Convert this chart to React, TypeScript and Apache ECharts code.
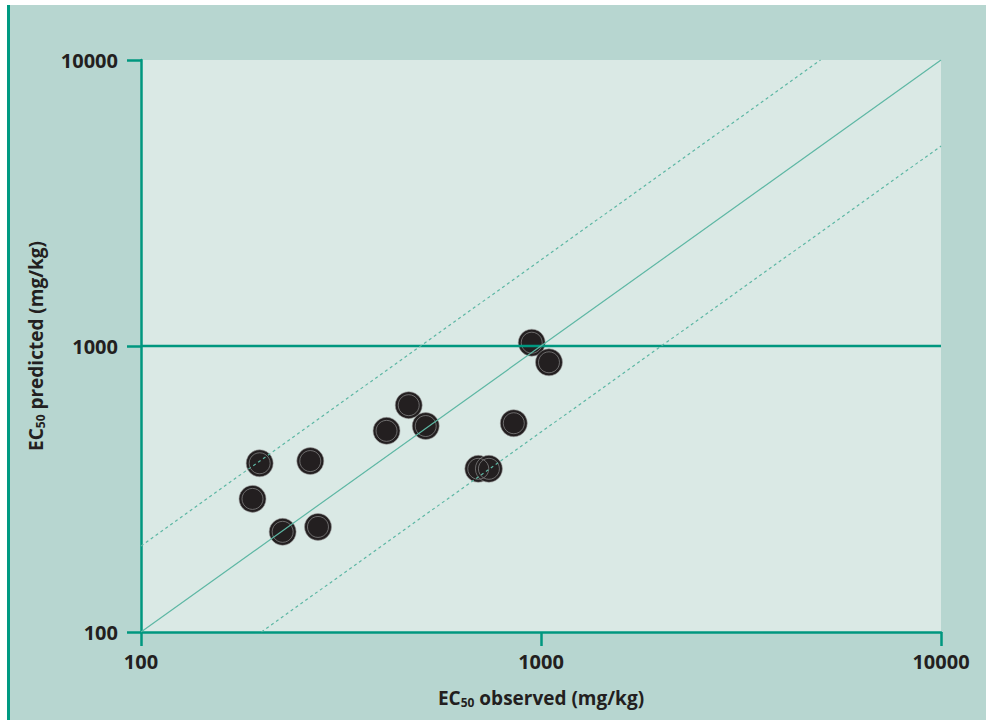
import React, { useEffect, useRef } from "react";
import * as echarts from "echarts";

const observed = [198, 190, 226, 265, 277, 411, 467, 515, 697, 741, 855, 948, 1047];
const predicted = [389, 292, 224, 396, 233, 505, 621, 525, 372, 372, 537, 1027, 877];
const axisMin = 100;
const axisMax = 10000;
const refLine = 1000;

const AXIS = "#00977f";
const DIAG = "#5db7a4";
const TEXT = "#231f20";
const FONT = "Open Sans";

export default function App() {
  const ref = useRef<HTMLDivElement>(null);
  useEffect(() => {
    if (!ref.current) return;
    const chart = echarts.init(ref.current, undefined, { renderer: "svg" });
    const points = observed.map((o, i) => [o, predicted[i]]);
    const axisCommon = {
      type: "log" as const,
      logBase: 10,
      min: axisMin,
      max: axisMax,
      axisLine: { show: true, lineStyle: { color: AXIS, width: 2.5 } },
      axisTick: { show: true, length: 14, lineStyle: { color: AXIS, width: 2.5 } },
      splitLine: { show: false },
      minorTick: { show: false },
    };
    const rich = {
      b: { fontFamily: FONT, fontWeight: "bold", fontSize: 19, fill: TEXT, color: TEXT },
      s: { fontFamily: FONT, fontWeight: "bold", fontSize: 12, fill: TEXT, color: TEXT, padding: [9, 0, 0, 0] },
    };
    chart.setOption({
      animation: false,
      backgroundColor: "#ffffff",
      graphic: [
        { type: "rect", shape: { x: 7, y: 5, width: 986, height: 720 }, style: { fill: "#b7d6d0" }, z: -10 },
        { type: "rect", shape: { x: 7, y: 5, width: 3, height: 720 }, style: { fill: "#009a82" }, z: -9 },
        {
          type: "text",
          x: 541,
          y: 698,
          style: {
            text: "{b|EC}{s|50}{b| observed (mg/kg)}",
            align: "center",
            verticalAlign: "middle",
            rich,
          },
        },
        {
          type: "text",
          x: 36,
          y: 346,
          rotation: Math.PI / 2,
          style: {
            text: "{b|EC}{s|50}{b| predicted (mg/kg)}",
            align: "center",
            verticalAlign: "middle",
            rich,
          },
        },
      ],
      grid: {
        left: 141,
        top: 60,
        width: 800,
        height: 572,
        show: true,
        backgroundColor: "#dae9e5",
        borderWidth: 0,
      },
      xAxis: {
        ...axisCommon,
        axisLabel: {
          margin: 19,
          color: TEXT,
          fontFamily: FONT,
          fontWeight: "bold",
          fontSize: 20,
          formatter: (v: number) => String(Math.round(v)),
        },
      },
      yAxis: {
        ...axisCommon,
        axisLabel: {
          margin: 23,
          color: TEXT,
          fontFamily: FONT,
          fontWeight: "bold",
          fontSize: 20,
          formatter: (v: number) => String(Math.round(v)),
        },
      },
      series: [
        {
          type: "line",
          data: [[axisMin, refLine], [axisMax, refLine]],
          symbol: "none",
          lineStyle: { color: AXIS, width: 2.5 },
          silent: true,
        },
        {
          type: "line",
          data: [[100, 100], [10000, 10000]],
          symbol: "none",
          lineStyle: { color: DIAG, width: 1.2 },
          silent: true,
        },
        {
          type: "line",
          data: [[100, 200], [5000, 10000]],
          symbol: "none",
          lineStyle: { color: DIAG, width: 1.2, type: [3, 3] },
          silent: true,
        },
        {
          type: "line",
          data: [[200, 100], [10000, 5000]],
          symbol: "none",
          lineStyle: { color: DIAG, width: 1.2, type: [3, 3] },
          silent: true,
        },
        {
          type: "scatter",
          data: points,
          symbolSize: 27,
          itemStyle: { color: TEXT, borderColor: "#9a9a9a", borderWidth: 0.6, opacity: 1 },
        },
        {
          type: "scatter",
          data: points,
          symbolSize: 21,
          silent: true,
          itemStyle: { color: "transparent", borderColor: "#8c8c8c", borderWidth: 0.7, opacity: 1 },
        },
      ],
    });
    return () => chart.dispose();
  }, []);
  return (
    <div
      ref={ref}
      style={{ position: "absolute", left: 0, top: 0, width: 986, height: 720 }}
    />
  );
}
